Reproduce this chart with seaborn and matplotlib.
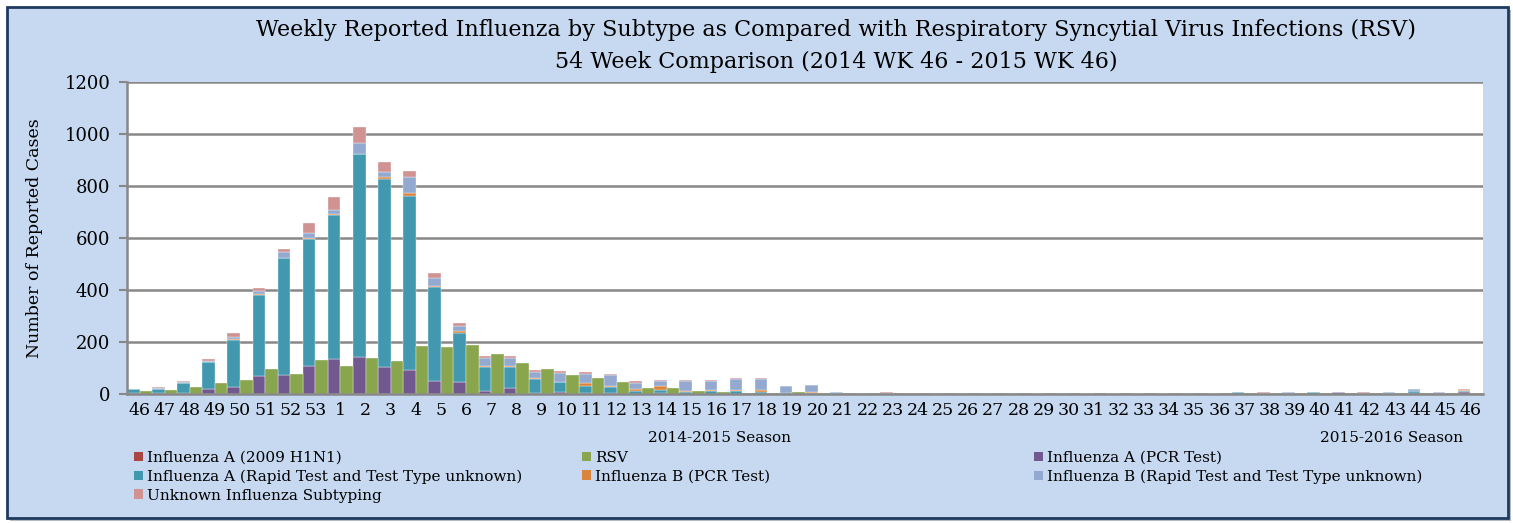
import numpy as np
import matplotlib
matplotlib.use("Agg")
import matplotlib.pyplot as plt
import seaborn as sns
from matplotlib.patches import Rectangle, Patch

# ---------------- data ----------------
weeks = [46, 47, 48, 49, 50, 51, 52, 53] + list(range(1, 47))

flu_a_h1n1 = [0, 0, 0, 0, 0, 0, 0, 0, 0, 0, 0, 0, 0, 0, 0, 0, 0, 0,
              0, 0, 0, 0, 0, 0, 0, 0, 0, 0, 0, 0, 0, 0, 0, 0, 0, 0,
              0, 0, 0, 0, 0, 0, 0, 0, 0, 0, 0, 0, 0, 0, 0, 0, 0, 0]
flu_a_pcr = [3, 2, 2, 18, 28, 69, 72, 106, 133, 141, 105, 91, 51, 45, 10, 22, 5, 9,
             3, 5, 0, 2, 0, 1, 1, 1, 0, 0, 0, 1, 0, 0, 1, 1, 1, 0,
             1, 0, 1, 0, 1, 0, 0, 0, 0, 0, 4, 1, 6, 1, 0, 3, 2, 6]
flu_a_rapid = [15, 18, 42, 104, 181, 313, 450, 492, 555, 781, 722, 672, 360, 191, 94, 82, 53, 37,
               29, 22, 13, 15, 8, 10, 12, 8, 2, 2, 2, 0, 0, 0, 0, 1, 0, 1,
               0, 1, 0, 0, 0, 1, 3, 1, 7, 0, 0, 7, 0, 0, 2, 8, 0, 6]
flu_b_pcr = [0, 0, 0, 1, 1, 1, 2, 2, 4, 0, 6, 10, 5, 5, 5, 5, 3, 0,
             9, 5, 5, 13, 5, 5, 4, 8, 1, 6, 1, 0, 0, 3, 0, 0, 0, 0,
             0, 0, 0, 0, 0, 0, 0, 0, 0, 0, 0, 0, 0, 0, 0, 0, 0, 5]
flu_b_rapid = [0, 4, 2, 3, 9, 12, 21, 20, 15, 42, 22, 63, 32, 19, 31, 31, 24, 36,
               36, 41, 23, 21, 36, 35, 42, 42, 27, 27, 6, 1, 4, 0, 1, 0, 1, 1,
               0, 1, 0, 1, 0, 0, 0, 0, 1, 3, 4, 1, 3, 4, 4, 7, 4, 0]
flu_unknown = [0, 4, 3, 9, 15, 11, 13, 36, 49, 63, 37, 21, 17, 12, 6, 5, 6, 8,
               6, 3, 9, 3, 5, 4, 3, 3, 0, 0, 0, 1, 4, 0, 0, 0, 0, 0,
               0, 0, 0, 0, 0, 0, 0, 0, 0, 3, 0, 0, 0, 4, 0, 0, 3, 1]
rsv = [12, 17, 28, 42, 54, 96, 77, 132, 109, 140, 127, 185, 181, 187, 154, 120, 96, 74,
       62, 46, 24, 23, 13, 9, 5, 5, 8, 2, 1, 1, 1, 1, 1, 1, 1, 1,
       1, 1, 1, 1, 1, 1, 1, 1, 2, 2, 2, 2, 2, 2, 2, 2, 2, 3]

flu_labels = ["Influenza A (2009 H1N1)", "Influenza A (PCR Test)",
              "Influenza A (Rapid Test and Test Type unknown)", "Influenza B (PCR Test)",
              "Influenza B (Rapid Test and Test Type unknown)", "Unknown Influenza Subtyping"]
rsv_label = "RSV"
season_labels = ["2014-2015 Season", "2015-2016 Season"]
title_lines = ["Weekly Reported Influenza by Subtype as Compared with Respiratory Syncytial Virus Infections (RSV)",
               "54 Week Comparison (2014 WK 46 - 2015 WK 46)"]
y_label = "Number of Reported Cases"
y_ticks = [0, 200, 400, 600, 800, 1000, 1200]

# ---------------- style ----------------
sns.set_theme(style="white")
plt.rcParams["font.family"] = ["DejaVu Serif"]
plt.rcParams["text.color"] = "black"
plt.rcParams["axes.labelcolor"] = "black"
plt.rcParams["xtick.color"] = "black"
plt.rcParams["ytick.color"] = "black"

colors = {
    "Influenza A (2009 H1N1)": "#AA4643",
    "Influenza A (PCR Test)": "#71588F",
    "Influenza A (Rapid Test and Test Type unknown)": "#4198AF",
    "Influenza B (PCR Test)": "#DB843D",
    "Influenza B (Rapid Test and Test Type unknown)": "#93A9CF",
    "Unknown Influenza Subtyping": "#D19392",
    "RSV": "#89A54E",
}
BG = "#C6D9F1"
GRID = "#888888"

W, H = 1513, 523
fig = plt.figure(figsize=(W / 100, H / 100), dpi=100)
fig.patch.set_facecolor("white")

# panel with shadow
fig.add_artist(Rectangle((10 / W, 1 - 521 / H), (1508 - 7) / W, (518 - 7) / H,
                         transform=fig.transFigure, facecolor="#5a6a80", edgecolor="none",
                         alpha=0.45, zorder=-11))
fig.add_artist(Rectangle((7 / W, 1 - 518 / H), (1508 - 7) / W, (518 - 7) / H,
                         transform=fig.transFigure, facecolor=BG, edgecolor="#1F3A60",
                         linewidth=2, zorder=-10))

ax = fig.add_axes([127 / W, 1 - 394 / H, (1483 - 127) / W, (394 - 82) / H])
ax.set_facecolor("white")

x = np.arange(len(weeks))
series = [flu_a_h1n1, flu_a_pcr, flu_a_rapid, flu_b_pcr, flu_b_rapid, flu_unknown]
bottom = np.zeros(len(weeks))
for lab, vals in zip(flu_labels, series):
    v = np.array(vals, dtype=float)
    ax.bar(x - 0.25, v, width=0.5, bottom=bottom, color=colors[lab],
           edgecolor=(1, 1, 1, 0.7), linewidth=0.35, zorder=3)
    bottom += v
ax.bar(x + 0.25, np.array(rsv, dtype=float), width=0.5, color=colors["RSV"],
       edgecolor=(1, 1, 1, 0.7), linewidth=0.35, zorder=3)

ax.set_xlim(-0.5, len(weeks) - 0.5)
ax.set_ylim(0, 1200)
ax.set_yticks(y_ticks)
ax.set_yticklabels([str(t) for t in y_ticks], fontsize=13)
ax.set_xticks(x)
ax.set_xticklabels([str(w) for w in weeks], fontsize=12.5)
ax.yaxis.grid(True, color=GRID, linewidth=1.8, zorder=0)
ax.xaxis.grid(False)
ax.set_axisbelow(True)
for s in ["top", "right"]:
    ax.spines[s].set_visible(False)
for s in ["left", "bottom"]:
    ax.spines[s].set_color(GRID)
    ax.spines[s].set_linewidth(1.8)
    ax.spines[s].set_zorder(4)
ax.tick_params(axis="y", direction="out", length=6, width=1.5, color=GRID, labelcolor="black",
               pad=6, left=True)
ax.tick_params(axis="x", length=0, pad=6, labelcolor="black")
ax.set_ylabel(y_label, fontsize=12.5, color="black")
ax.yaxis.set_label_coords((43 - 127) / (1483 - 127), 0.5)

# title
fig.text(836 / W, 1 - 30 / H, title_lines[0], ha="center", va="center", fontsize=16, color="black")
fig.text(836 / W, 1 - 62 / H, title_lines[1], ha="center", va="center", fontsize=16, color="black")

# season labels
fig.text(719 / W, 1 - 438 / H, season_labels[0], ha="center", va="center", fontsize=11, color="black")
fig.text(1463 / W, 1 - 438 / H, season_labels[1], ha="right", va="center", fontsize=11, color="black")

# legend: three columns laid out row-wise
cols = [
    ["Influenza A (2009 H1N1)", "Influenza A (Rapid Test and Test Type unknown)", "Unknown Influenza Subtyping"],
    ["RSV", "Influenza B (PCR Test)"],
    ["Influenza A (PCR Test)", "Influenza B (Rapid Test and Test Type unknown)"],
]
col_x = [134, 582, 1034]
for cx, items in zip(col_x, cols):
    handles = [Patch(facecolor=colors[i], edgecolor="none") for i in items]
    leg = fig.legend(handles, items, loc="upper left", bbox_to_anchor=(cx / W, 1 - 451 / H),
                     frameon=False, fontsize=11, borderpad=0, borderaxespad=0,
                     handlelength=0.6, handleheight=0.6, handletextpad=0.25, labelspacing=0.3)
    for t in leg.get_texts():
        t.set_color("black")

fig.savefig("out.png", dpi=100, facecolor=fig.get_facecolor())
